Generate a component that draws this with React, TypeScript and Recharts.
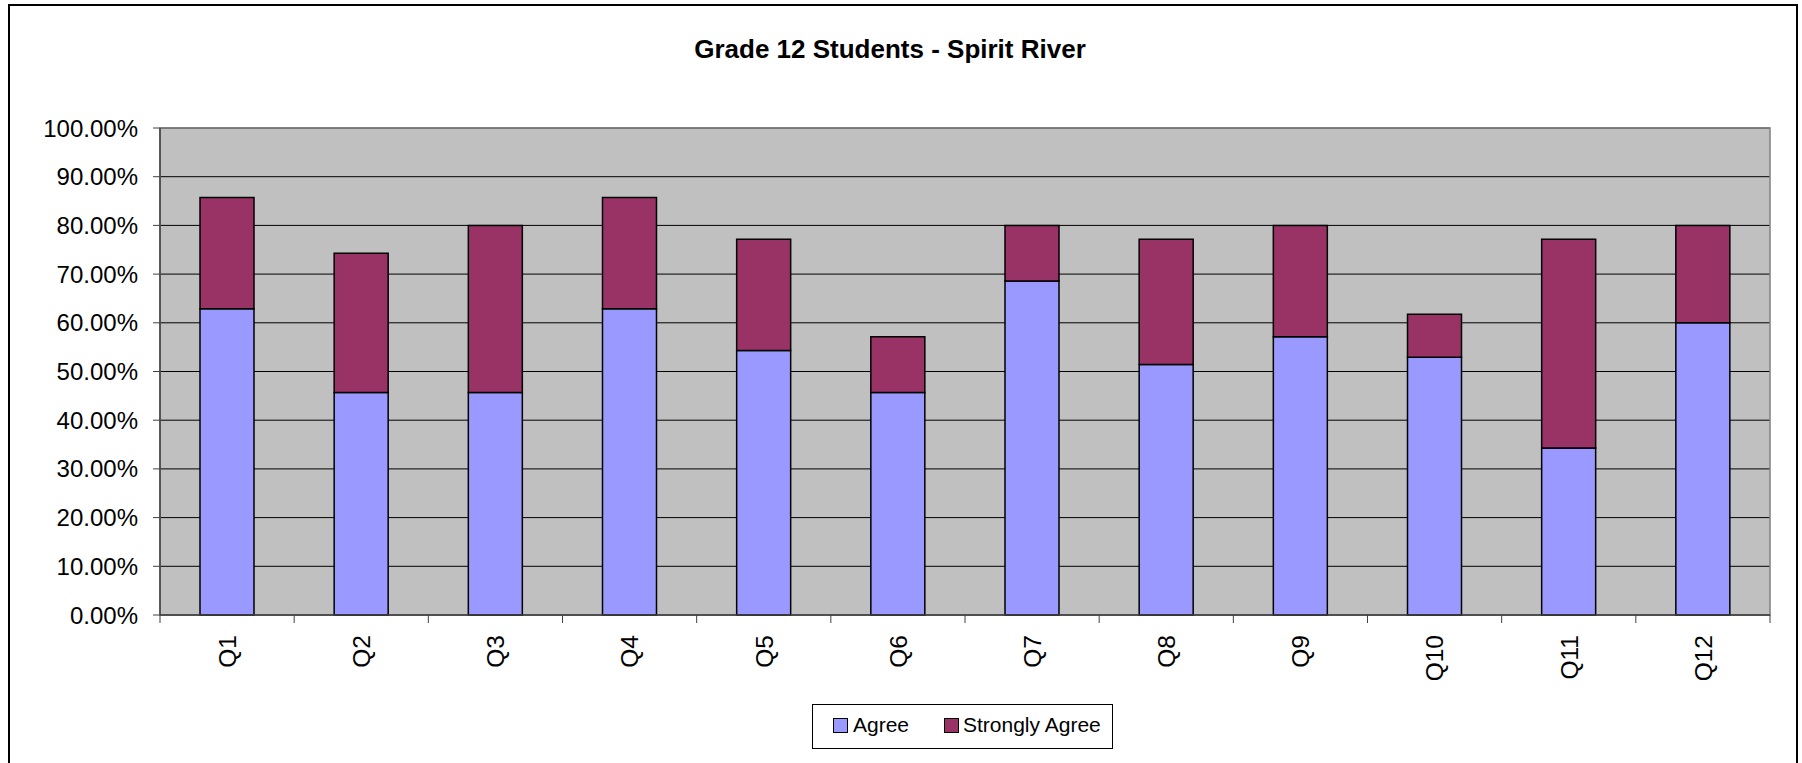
import { BarChart, Bar, XAxis, YAxis, CartesianGrid, Legend, ReferenceArea } from "recharts";

const questions = ["Q1", "Q2", "Q3", "Q4", "Q5", "Q6", "Q7", "Q8", "Q9", "Q10", "Q11", "Q12"];
const agree = [62.86, 45.71, 45.71, 62.86, 54.29, 45.71, 68.57, 51.43, 57.14, 52.94, 34.29, 60.0];
const stronglyAgree = [22.86, 28.57, 34.29, 22.86, 22.86, 11.43, 11.43, 25.71, 22.86, 8.82, 42.86, 20.0];
const yTicks = [0, 10, 20, 30, 40, 50, 60, 70, 80, 90, 100];

const data = questions.map((q, i) => ({
  q,
  agree: agree[i],
  strongly: stronglyAgree[i],
}));

const FONT = "'Liberation Sans', Arial, sans-serif";
const W = 1802;
const H = 763;
const PLOT_LEFT = 160;
const PLOT_RIGHT = 1770;
const BAND = (PLOT_RIGHT - PLOT_LEFT) / questions.length;

const QTick = (props: any) => {
  const { x, y, payload } = props;
  const last = payload.value === questions[questions.length - 1];
  return (
    <g>
      <line x1={x - BAND / 2} y1={y} x2={x - BAND / 2} y2={y + 8} stroke="#404040" strokeWidth={1} />
      {last && <line x1={x + BAND / 2} y1={y} x2={x + BAND / 2} y2={y + 8} stroke="#404040" strokeWidth={1} />}
      <g transform={`translate(${x},${y + 20}) rotate(-90)`}>
        <text x={0} y={0} dy="0.36em" textAnchor="end" fontSize={24.5} fontFamily={FONT} fill="#000">
          {payload.value}
        </text>
      </g>
    </g>
  );
};

const renderLegend = (props: any) => {
  const items = props.payload || [];
  const spots = [
    { box: 20, text: 40 },
    { box: 131, text: 150 },
  ];
  return (
    <div
      style={{
        position: "relative",
        width: 301,
        height: 45,
        boxSizing: "border-box",
        border: "1.5px solid #000",
        background: "#fff",
        fontFamily: FONT,
        fontSize: 21,
      }}
    >
      {items.map((it: any, i: number) => (
        <div key={it.value}>
          <div
            style={{
              position: "absolute",
              left: spots[i].box,
              top: 13,
              width: 15,
              height: 15,
              boxSizing: "border-box",
              border: "1.5px solid #000",
              background: it.color,
            }}
          />
          <div style={{ position: "absolute", left: spots[i].text, top: 8, lineHeight: "24px", color: "#000", whiteSpace: "nowrap" }}>
            {it.value}
          </div>
        </div>
      ))}
    </div>
  );
};

export default function App() {
  return (
    <div style={{ position: "absolute", left: 0, top: 0, width: W, height: H, overflow: "hidden", background: "#fff" }}>
      <div
        style={{
          position: "absolute",
          left: 8,
          top: 4,
          width: 1790,
          height: 800,
          border: "2px solid #000",
          boxSizing: "border-box",
        }}
      />
      <div
        style={{
          position: "absolute",
          left: 590,
          top: 36,
          width: 600,
          textAlign: "center",
          fontFamily: FONT,
          fontWeight: "bold",
          fontSize: 26,
          lineHeight: "26px",
          color: "#000",
        }}
      >
        Grade 12 Students - Spirit River
      </div>
      <BarChart
        width={W}
        height={H}
        data={data}
        margin={{ top: 128, right: W - PLOT_RIGHT, bottom: 88, left: 60 }}
        barSize={54}
        style={{ position: "absolute", left: 0, top: 0 }}
      >
        <CartesianGrid vertical={false} stroke="#000" strokeWidth={1} fill="#C0C0C0" fillOpacity={1} />
        <ReferenceArea y1={0} y2={100} fill="none" stroke="#808080" strokeWidth={1.5} ifOverflow="visible" />
        <XAxis
          dataKey="q"
          height={60}
          interval={0}
          tickSize={0}
          tickMargin={0}
          tickLine={false}
          axisLine={{ stroke: "#404040", strokeWidth: 1.5 }}
          tick={<QTick />}
        />
        <YAxis
          width={100}
          domain={[0, 100]}
          ticks={yTicks}
          interval={0}
          tickFormatter={(v: number) => v.toFixed(2) + "%"}
          tickSize={7}
          tickMargin={15}
          tickLine={{ stroke: "#404040" }}
          axisLine={{ stroke: "#404040", strokeWidth: 1.5 }}
          tick={{ fontSize: 24, fontFamily: FONT, fill: "#000" }}
        />
        <Legend
          layout="horizontal"
          verticalAlign="middle"
          align="center"
          wrapperStyle={{ left: 812, top: 704, width: 301, height: 45 }}
          content={renderLegend}
        />
        <Bar dataKey="agree" name="Agree" stackId="a" fill="#9999FF" stroke="#000" strokeWidth={1.5} isAnimationActive={false} />
        <Bar dataKey="strongly" name="Strongly Agree" stackId="a" fill="#993366" stroke="#000" strokeWidth={1.5} isAnimationActive={false} />
      </BarChart>
    </div>
  );
}
